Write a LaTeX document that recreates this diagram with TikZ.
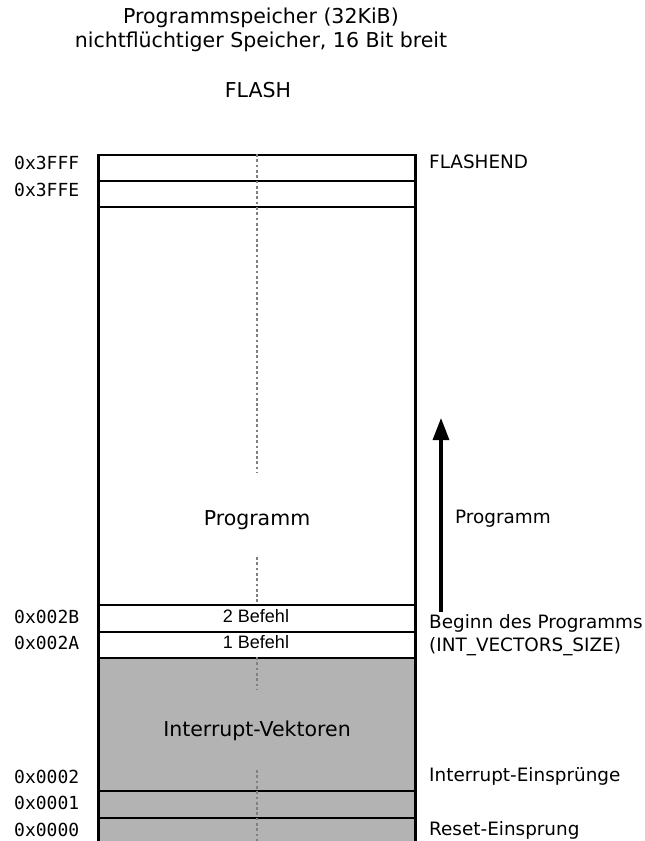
\documentclass[tikz,border=0pt]{standalone}
\usepackage{fontspec}
\setmainfont{DejaVu Sans}
\setmonofont{DejaVu Sans Mono}
\newfontfamily\arialfont{Liberation Sans}
\usetikzlibrary{arrows.meta}
\begin{document}
\begin{tikzpicture}[x=1pt,y=-1pt,
  cell/.style={draw=black,line width=2.8pt,rectangle,inner sep=0pt,minimum width=317pt,anchor=north west},
  whitecell/.style={cell,fill=white},
  graycell/.style={cell,fill=boxgray},
  addr/.style={anchor=west,inner sep=0pt,font=\ttfamily\fontsize{18}{20}\selectfont},
  sidelabel/.style={anchor=west,inner sep=0pt,font=\fontsize{18.4}{22.5}\selectfont},
  biglabel/.style={inner sep=0pt,font=\fontsize{20.5}{24}\selectfont},
  cmdlabel/.style={inner sep=0pt,font=\arialfont\fontsize{18}{20}\selectfont},
  guide/.style={draw=dotgray,line width=2.8pt,dash pattern=on 2.7pt off 2.6pt}
]
\definecolor{boxgray}{HTML}{B3B3B3}
\definecolor{dotgray}{HTML}{808080}
\useasboundingbox (0,0) rectangle (645,841);
\clip (0,0) rectangle (645,841);
% rows
\node[whitecell,minimum height=26pt] (r3fff) at (97,153.5) {};
\node[whitecell,minimum height=26pt] (r3ffe) at (97,179.5) {};
\node[whitecell,minimum height=398pt] (rprog) at (97,205.5) {};
\node[whitecell,minimum height=27pt] (r2b) at (97,603.5) {};
\node[whitecell,minimum height=26pt] (r2a) at (97,630.5) {};
\node[graycell,minimum height=133pt] (rvec) at (97,656.5) {};
\node[graycell,minimum height=27pt] (r1) at (97,789.5) {};
\node[graycell,minimum height=40pt] (r0) at (97,816.5) {};
% dotted guides
\coordinate (g1a) at (257,154);
\coordinate (g1b) at (257,473);
\coordinate (g2a) at (257,557);
\coordinate (g2b) at (257,603);
\coordinate (g3a) at (257,657);
\coordinate (g3b) at (257,690);
\coordinate (g4a) at (257,770);
\coordinate (g4b) at (257,845);
\draw[guide] (g1a) -- (g1b);
\draw[guide] (g2a) -- (g2b);
\draw[guide] (g3a) -- (g3b);
\draw[guide] (g4a) -- (g4b);
% titles
\node[biglabel,align=center] (title) at (261,30) {Programmspeicher (32KiB)\\nichtflüchtiger Speicher, 16 Bit breit};
\node[biglabel] (flash) at (258,90) {FLASH};
% inner labels
\node[biglabel] (progin) at (257,520) {Programm};
\node[biglabel] (vekt) at (257,731) {Interrupt-Vektoren};
\node[cmdlabel] (b2) at (256,616.5) {2 Befehl};
\node[cmdlabel] (b1) at (256,642.5) {1 Befehl};
% addresses
\node[addr] (a3fff) at (14,163) {0x3FFF};
\node[addr] (a3ffe) at (14,190) {0x3FFE};
\node[addr] (a2b) at (14,617) {0x002B};
\node[addr] (a2a) at (14,643) {0x002A};
\node[addr] (a2) at (14,777) {0x0002};
\node[addr] (a1) at (14,803) {0x0001};
\node[addr] (a0) at (14,830) {0x0000};
% side labels
\node[sidelabel] (fend) at (429,162) {FLASHEND};
\node[sidelabel] (progout) at (455,519) {Programm};
\node[sidelabel,align=left] (beginn) at (429,635) {Beginn des Programms\\(INT\_VECTORS\_SIZE)};
\node[sidelabel] (intein) at (429,776) {Interrupt-Einsprünge};
\node[sidelabel] (reset) at (429,830) {Reset-Einsprung};
% arrow
\coordinate (arrS) at (441,612);
\coordinate (arrE) at (441,418);
\draw[line width=3.2pt,-{Triangle[width=16pt,length=22pt]}] (arrS) -- (arrE);
\end{tikzpicture}
\end{document}
